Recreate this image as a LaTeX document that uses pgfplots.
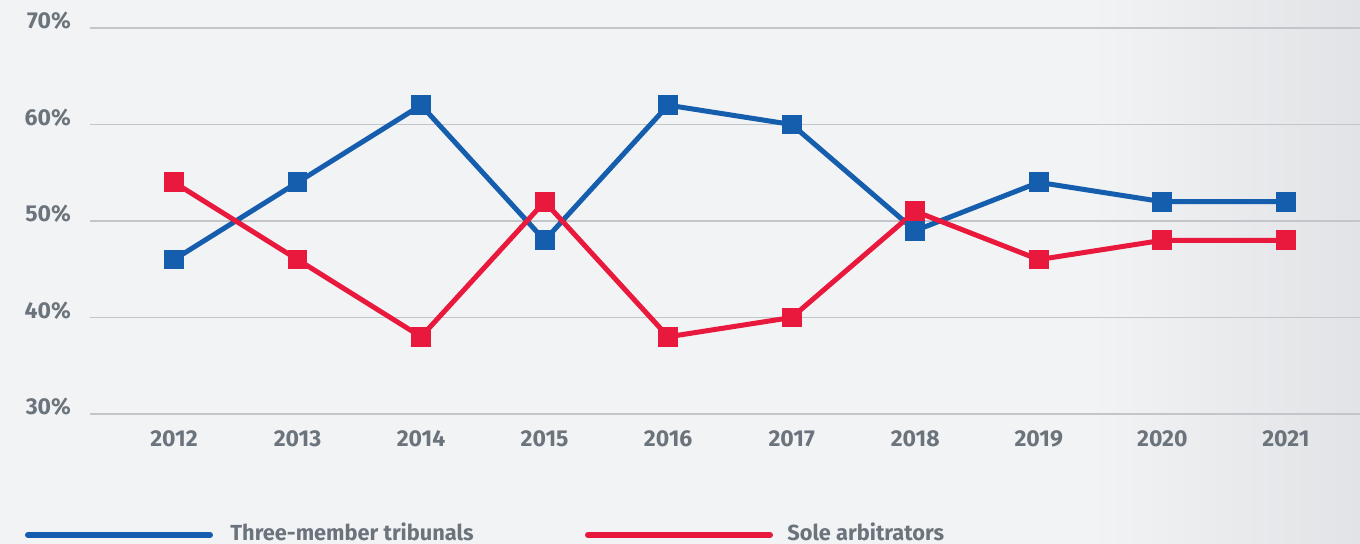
\documentclass[border=0pt]{standalone}
\usepackage{pgfplots}
\pgfplotsset{compat=1.18}
\usepackage{fontspec}
\setmainfont{Fira Sans}
\definecolor{bg}{HTML}{F2F3F5}
\definecolor{bgdark}{HTML}{E1E3E6}
\definecolor{gridc}{HTML}{C3C6C9}
\definecolor{txt}{HTML}{6B747C}
\definecolor{blueline}{HTML}{155DAD}
\definecolor{redline}{HTML}{E8193C}
\begin{document}
\begin{tikzpicture}
% background (1px = 0.5pt)
\fill[bg] (-45pt,-65pt) rectangle (635pt,207pt);
\shade[left color=bg, right color=bgdark] (500pt,-65pt) rectangle (635pt,207pt);
\begin{axis}[
    scale only axis,
    width=635pt, height=193pt,
    xmin=2011.32, xmax=2021.6,
    ymin=30, ymax=70,
    axis line style={draw=none},
    major tick length=0pt,
    ymajorgrids,
    grid style={gridc, line width=0.8pt},
    xtick={2012,2013,2014,2015,2016,2017,2018,2019,2020,2021},
    xticklabels={2012,2013,2014,2015,2016,2017,2018,2019,2020,2021},
    ytick={30,40,50,60,70},
    yticklabels={30\%,40\%,50\%,60\%,70\%},
    ticklabel style={font=\fontsize{11.5}{12}\selectfont\bfseries, text=txt},
    yticklabel style={xshift=-6pt, yshift=3.5pt},
    xticklabel style={yshift=-5pt},
    clip=false,
]
\addplot[blueline, line width=2.5pt, mark=square*, mark size=3.7pt,
    mark options={fill=blueline, draw=blueline}]
coordinates {
    (2012,46)(2013,54)(2014,62)(2015,48)(2016,62)(2017,60)(2018,49)(2019,54)(2020,52)(2021,52)
};
\addplot[redline, line width=2.5pt, mark=square*, mark size=3.7pt,
    mark options={fill=redline, draw=redline}]
coordinates {
    (2012,54)(2013,46)(2014,38)(2015,52)(2016,38)(2017,40)(2018,51)(2019,46)(2020,48)(2021,48)
};
\end{axis}
% legend
\draw[blueline, line width=3pt, line cap=round] (-31pt,-60.5pt) -- (60pt,-60.5pt);
\node[anchor=base west, inner sep=0pt, text=txt, font=\fontsize{10.9}{12}\selectfont\bfseries]
    at (70pt,-63.5pt) {Three-member tribunals};
\draw[redline, line width=3pt, line cap=round] (249pt,-60.5pt) -- (340pt,-60.5pt);
\node[anchor=base west, inner sep=0pt, text=txt, font=\fontsize{10.9}{12}\selectfont\bfseries]
    at (348.5pt,-63.5pt) {Sole arbitrators};
\pgfresetboundingbox
\useasboundingbox (-45pt,-65pt) rectangle (635pt,207pt);
\end{tikzpicture}
\end{document}
